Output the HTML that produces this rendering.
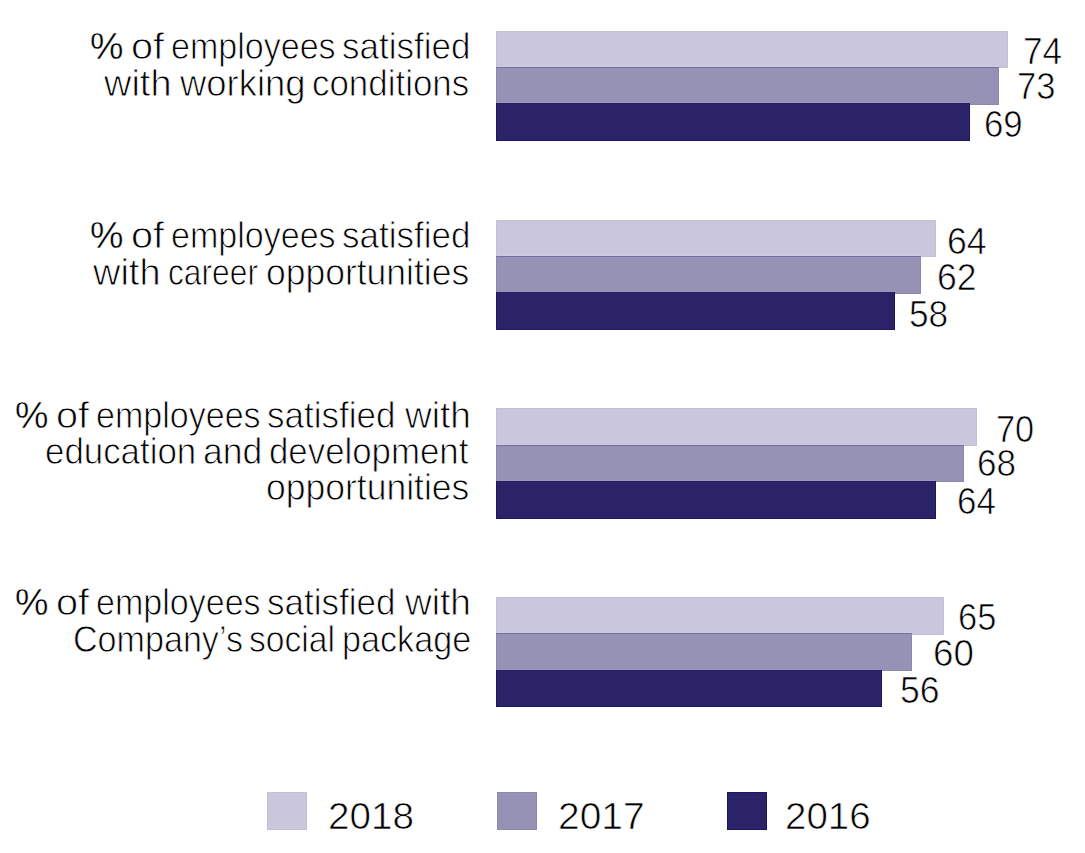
<!DOCTYPE html>
<html><head><meta charset="utf-8"><style>
html,body{margin:0;padding:0;background:#fff;width:1085px;height:853px;overflow:hidden;position:relative}
.t{position:absolute;white-space:nowrap;font-family:"Liberation Sans",sans-serif;font-size:37px;line-height:37px;color:#000;transform-origin:0 0;-webkit-text-stroke:0.85px #fff}
.b{position:absolute;box-sizing:border-box}
.d{-webkit-text-stroke:0.7px #fff}
.p{-webkit-text-stroke:0.4px #fff}
</style></head><body>
<div class="t p" style="left:90.37px;top:27.60px;transform:scaleX(1.0172)">%</div>
<div class="t" style="left:131.16px;top:27.60px;transform:scaleX(1.0714)">of</div>
<div class="t" style="left:171.26px;top:27.60px;transform:scaleX(0.9200)">employees</div>
<div class="t" style="left:341.81px;top:27.60px;transform:scaleX(0.9458)">satisfied</div>
<div class="t" style="left:104.47px;top:64.50px;transform:scaleX(1.0258)">with</div>
<div class="t" style="left:180.12px;top:64.50px;transform:scaleX(0.9847)">working</div>
<div class="t" style="left:312.31px;top:64.50px;transform:scaleX(0.9436)">conditions</div>
<div class="t p" style="left:90.37px;top:216.50px;transform:scaleX(1.0172)">%</div>
<div class="t" style="left:131.16px;top:216.50px;transform:scaleX(1.0714)">of</div>
<div class="t" style="left:171.26px;top:216.50px;transform:scaleX(0.9200)">employees</div>
<div class="t" style="left:341.81px;top:216.50px;transform:scaleX(0.9458)">satisfied</div>
<div class="t" style="left:92.67px;top:253.50px;transform:scaleX(1.0258)">with</div>
<div class="t" style="left:167.58px;top:253.50px;transform:scaleX(0.8578)">career</div>
<div class="t" style="left:266.48px;top:253.50px;transform:scaleX(0.9587)">opportunities</div>
<div class="t p" style="left:15.37px;top:396.70px;transform:scaleX(1.0172)">%</div>
<div class="t" style="left:56.16px;top:396.70px;transform:scaleX(1.0714)">of</div>
<div class="t" style="left:96.26px;top:396.70px;transform:scaleX(0.9200)">employees</div>
<div class="t" style="left:267.31px;top:396.70px;transform:scaleX(0.9458)">satisfied</div>
<div class="t" style="left:404.50px;top:396.70px;transform:scaleX(1.0016)">with</div>
<div class="t" style="left:45.22px;top:432.70px;transform:scaleX(0.9423)">education</div>
<div class="t" style="left:203.38px;top:432.70px;transform:scaleX(0.9614)">and</div>
<div class="t" style="left:269.42px;top:432.70px;transform:scaleX(0.9411)">development</div>
<div class="t" style="left:266.48px;top:469.30px;transform:scaleX(0.9596)">opportunities</div>
<div class="t p" style="left:15.37px;top:584.20px;transform:scaleX(1.0172)">%</div>
<div class="t" style="left:56.16px;top:584.20px;transform:scaleX(1.0714)">of</div>
<div class="t" style="left:96.26px;top:584.20px;transform:scaleX(0.9200)">employees</div>
<div class="t" style="left:267.31px;top:584.20px;transform:scaleX(0.9458)">satisfied</div>
<div class="t" style="left:404.50px;top:584.20px;transform:scaleX(1.0016)">with</div>
<div class="t" style="left:72.66px;top:621.30px;transform:scaleX(0.9215)">Company’s</div>
<div class="t" style="left:249.48px;top:621.30px;transform:scaleX(0.9089)">social</div>
<div class="t" style="left:341.53px;top:621.30px;transform:scaleX(0.9237)">package</div>
<div class="t d" style="left:1022.95px;top:32.70px;transform:scaleX(0.9513)">74</div>
<div class="t d" style="left:1017.24px;top:67.60px;transform:scaleX(0.9324)">73</div>
<div class="t d" style="left:984.22px;top:105.80px;transform:scaleX(0.9405)">69</div>
<div class="t d" style="left:946.87px;top:222.80px;transform:scaleX(0.9632)">64</div>
<div class="t d" style="left:936.78px;top:259.30px;transform:scaleX(0.9595)">62</div>
<div class="t d" style="left:908.70px;top:295.80px;transform:scaleX(0.9514)">58</div>
<div class="t d" style="left:996.35px;top:410.60px;transform:scaleX(0.9270)">70</div>
<div class="t d" style="left:976.71px;top:445.40px;transform:scaleX(0.9459)">68</div>
<div class="t d" style="left:956.91px;top:483.40px;transform:scaleX(0.9447)">64</div>
<div class="t d" style="left:957.84px;top:598.80px;transform:scaleX(0.9297)">65</div>
<div class="t d" style="left:933.42px;top:634.80px;transform:scaleX(0.9919)">60</div>
<div class="t d" style="left:900.48px;top:671.60px;transform:scaleX(0.9595)">56</div>
<div class="t d" style="left:328.11px;top:797.90px;transform:scaleX(1.0449)">2018</div>
<div class="t d" style="left:558.10px;top:797.90px;transform:scaleX(1.0513)">2017</div>
<div class="t d" style="left:785.02px;top:797.90px;transform:scaleX(1.0410)">2016</div>
<div class="b" style="left:496px;top:31px;width:512px;height:37px;background:#cac7dc;border:1px solid #c3c0d6;border-top-color:#c3c0d6"></div>
<div class="b" style="left:496px;top:67px;width:503px;height:38px;background:#9692b5;border:1px solid #8d88ae;border-top-color:#756fa0"></div>
<div class="b" style="left:497px;top:66px;width:501px;height:1px;background:#cecbdf"></div>
<div class="b" style="left:496px;top:103px;width:474px;height:38px;background:#2a2367;border:1px solid #1e1662;border-top-color:#251d67"></div>
<div class="b" style="left:497px;top:102px;width:472px;height:1px;background:#9c98ba"></div>
<div class="b" style="left:496px;top:220px;width:440px;height:37px;background:#cac7dc;border:1px solid #c3c0d6;border-top-color:#c3c0d6"></div>
<div class="b" style="left:496px;top:256px;width:425px;height:38px;background:#9692b5;border:1px solid #8d88ae;border-top-color:#756fa0"></div>
<div class="b" style="left:497px;top:255px;width:423px;height:1px;background:#cecbdf"></div>
<div class="b" style="left:496px;top:292px;width:399px;height:38px;background:#2a2367;border:1px solid #1e1662;border-top-color:#251d67"></div>
<div class="b" style="left:497px;top:291px;width:397px;height:1px;background:#9c98ba"></div>
<div class="b" style="left:496px;top:408px;width:481px;height:38px;background:#cac7dc;border:1px solid #c3c0d6;border-top-color:#c3c0d6"></div>
<div class="b" style="left:496px;top:445px;width:468px;height:37px;background:#9692b5;border:1px solid #8d88ae;border-top-color:#756fa0"></div>
<div class="b" style="left:497px;top:444px;width:466px;height:1px;background:#cecbdf"></div>
<div class="b" style="left:496px;top:481px;width:440px;height:38px;background:#2a2367;border:1px solid #1e1662;border-top-color:#251d67"></div>
<div class="b" style="left:497px;top:480px;width:438px;height:1px;background:#9c98ba"></div>
<div class="b" style="left:496px;top:597px;width:448px;height:38px;background:#cac7dc;border:1px solid #c3c0d6;border-top-color:#c3c0d6"></div>
<div class="b" style="left:496px;top:633px;width:416px;height:38px;background:#9692b5;border:1px solid #8d88ae;border-top-color:#756fa0"></div>
<div class="b" style="left:497px;top:632px;width:414px;height:1px;background:#cecbdf"></div>
<div class="b" style="left:496px;top:670px;width:386px;height:37px;background:#2a2367;border:1px solid #1e1662;border-top-color:#251d67"></div>
<div class="b" style="left:497px;top:669px;width:384px;height:1px;background:#9c98ba"></div>
<div class="b" style="left:267px;top:792px;width:40px;height:38px;background:#cac7dc;border:1px solid #c3c0d6"></div>
<div class="b" style="left:497px;top:792px;width:40px;height:38px;background:#9692b5;border:1px solid #8d88ae"></div>
<div class="b" style="left:727px;top:792px;width:40px;height:38px;background:#2a2367;border:1px solid #1e1662"></div>
</body></html>
